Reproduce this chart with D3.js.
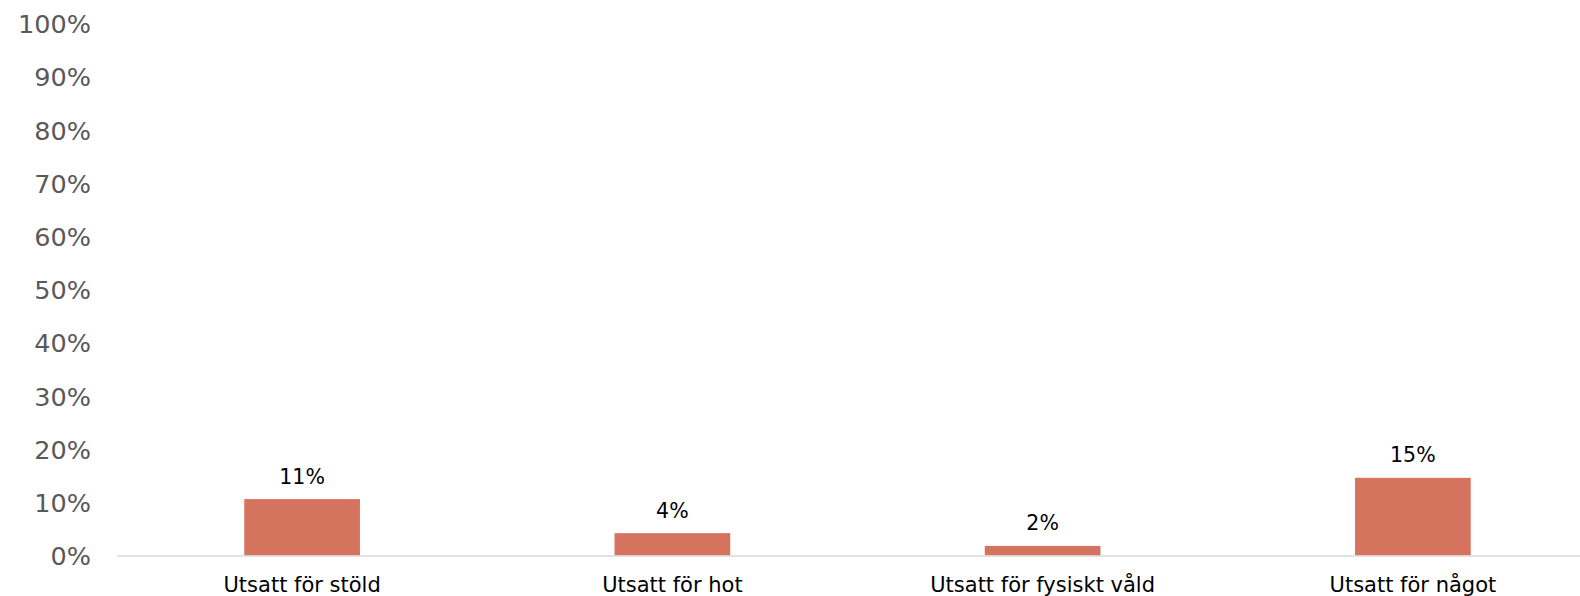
<!DOCTYPE html>
<html>
<head>
<meta charset="utf-8">
<script src="https://cdn.jsdelivr.net/npm/d3@7"></script>
<style>
  html, body { margin: 0; padding: 0; background: #fff; }
  svg { display: block; font-family: "DejaVu Sans", Verdana, sans-serif; }
</style>
</head>
<body>
<svg id="chart" width="1580" height="596"></svg>
<script>
const categories = ["Utsatt för stöld", "Utsatt för hot", "Utsatt för fysiskt våld", "Utsatt för något"];
const values = [10.6, 4.2, 1.8, 14.6];
const yTicks = [0, 10, 20, 30, 40, 50, 60, 70, 80, 90, 100];

const svg = d3.select("#chart");
const x0 = 117, x1 = 1598, yBase = 555.5, yTop = 23.5;

const x = d3.scaleBand().domain(categories).range([x0, x1]).padding(0);
const y = d3.scaleLinear().domain([0, 100]).range([yBase, yTop]);
const barW = x.bandwidth() * 0.3125;

// y axis labels
const yAxis = d3.axisLeft(y).tickValues(yTicks).tickFormat(d => d + "%").tickSize(0).tickPadding(0);
const gy = svg.append("g").attr("transform", "translate(91,0)").call(yAxis);
gy.select(".domain").remove();
gy.selectAll("text")
  .attr("fill", "#595959")
  .attr("font-size", 25.5)
  .attr("font-family", "DejaVu Sans, Verdana, sans-serif")
  .attr("dy", "0.36em");

// bars
svg.append("g").selectAll("rect")
  .data(values)
  .join("rect")
  .attr("x", (d, i) => x(categories[i]) + x.bandwidth() / 2 - barW / 2)
  .attr("width", barW)
  .attr("y", d => y(d))
  .attr("height", d => y(0) - y(d))
  .attr("fill", "#d5735f");

// baseline axis
const xAxis = d3.axisBottom(x).tickSize(0).tickPadding(0);
const gx = svg.append("g").attr("transform", `translate(0,${yBase})`).call(xAxis);
gx.select(".domain").attr("stroke", "#d9d9d9").attr("stroke-width", 1.5);
gx.selectAll("text")
  .attr("fill", "#000")
  .attr("font-size", 21)
  .attr("font-family", "DejaVu Sans, Verdana, sans-serif")
  .attr("dy", null)
  .attr("y", 592.3 - yBase);

// data labels
svg.append("g").selectAll("text")
  .data(values)
  .join("text")
  .attr("x", (d, i) => x(categories[i]) + x.bandwidth() / 2)
  .attr("y", d => y(d) - 15.5)
  .attr("text-anchor", "middle")
  .attr("font-size", 20.5)
  .attr("fill", "#000")
  .text(d => Math.round(d) + "%");
</script>
</body>
</html>
